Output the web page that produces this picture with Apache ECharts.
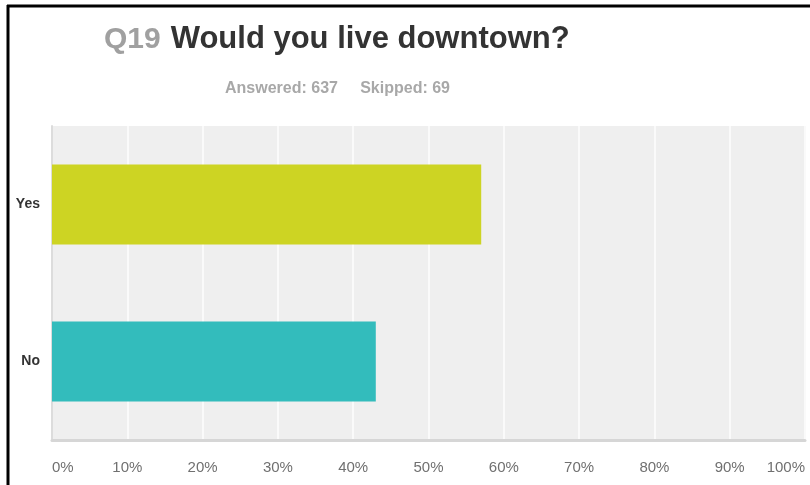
<!DOCTYPE html>
<html>
<head>
<meta charset="utf-8">
<script src="https://cdn.jsdelivr.net/npm/echarts@6/dist/echarts.min.js"></script>
<style>
  html, body { margin: 0; padding: 0; background: #fff; }
  #main { width: 810px; height: 485px; }
</style>
</head>
<body>
<div id="main"></div>
<script>
// survey answers, percent of respondents
const categories = ["Yes", "No"]
const values = [57, 43]
const barColors = ["#cdd423", "#33bcbc"]
const tickLabels = ["0%", "10%", "20%", "30%", "40%", "50%", "60%", "70%", "80%", "90%", "100%"]

const chart = echarts.init(document.getElementById("main"))

const option = {
  backgroundColor: "#fff",
  animation: false,
  title: [
    {
      text: "{q|Q19}  {t|Would you live downtown?}",
      left: 99,
      top: 19,
      textStyle: {
        rich: {
          q: { fontFamily: "Liberation Sans", fontSize: 30, color: "#a0a0a0" },
          t: { fontFamily: "Liberation Sans", fontSize: 31, fontWeight: "bold", color: "#333" },
        },
      },
    },
    {
      text: "Answered: 637     Skipped: 69",
      left: 220,
      top: 76,
      textStyle: { fontFamily: "Liberation Sans", fontSize: 16, fontWeight: "bold", color: "#a8a8a8" },
    },
  ],
  graphic: [
    { type: "line", shape: { x1: 7, y1: 6, x2: 810, y2: 6 }, style: { stroke: "#000", lineWidth: 3 } },
    { type: "line", shape: { x1: 8, y1: 5, x2: 8, y2: 485 }, style: { stroke: "#000", lineWidth: 3 } },
  ],
  grid: {
    left: 52,
    top: 126,
    right: 5,
    bottom: 45,
    show: true,
    backgroundColor: "#efefef",
    borderWidth: 0,
  },
  xAxis: {
    type: "value",
    min: 0,
    max: 100,
    interval: 10,
    axisLine: { show: true, lineStyle: { color: "#d6d6d6", width: 3 } },
    axisTick: { show: false },
    splitLine: { show: true, lineStyle: { color: "#fafafa", width: 2 } },
    axisLabel: {
      margin: 20,
      color: "#707070",
      fontSize: 15,
      fontFamily: "Liberation Sans",
      alignMinLabel: "left",
      alignMaxLabel: "right",
      formatter: (v) => tickLabels[Math.round(v / 10)],
    },
  },
  yAxis: {
    type: "category",
    data: categories,
    inverse: true,
    axisLine: { show: true, lineStyle: { color: "#dcdcdc", width: 2 } },
    axisTick: { show: false },
    axisLabel: {
      margin: 12,
      color: "#333",
      fontSize: 14,
      fontWeight: "bold",
      fontFamily: "Liberation Sans",
    },
  },
  series: [
    {
      type: "bar",
      data: values.map((v, i) => ({ value: v, itemStyle: { color: barColors[i] } })),
      barWidth: 80,
    },
  ],
}

chart.setOption(option)
</script>
</body>
</html>
